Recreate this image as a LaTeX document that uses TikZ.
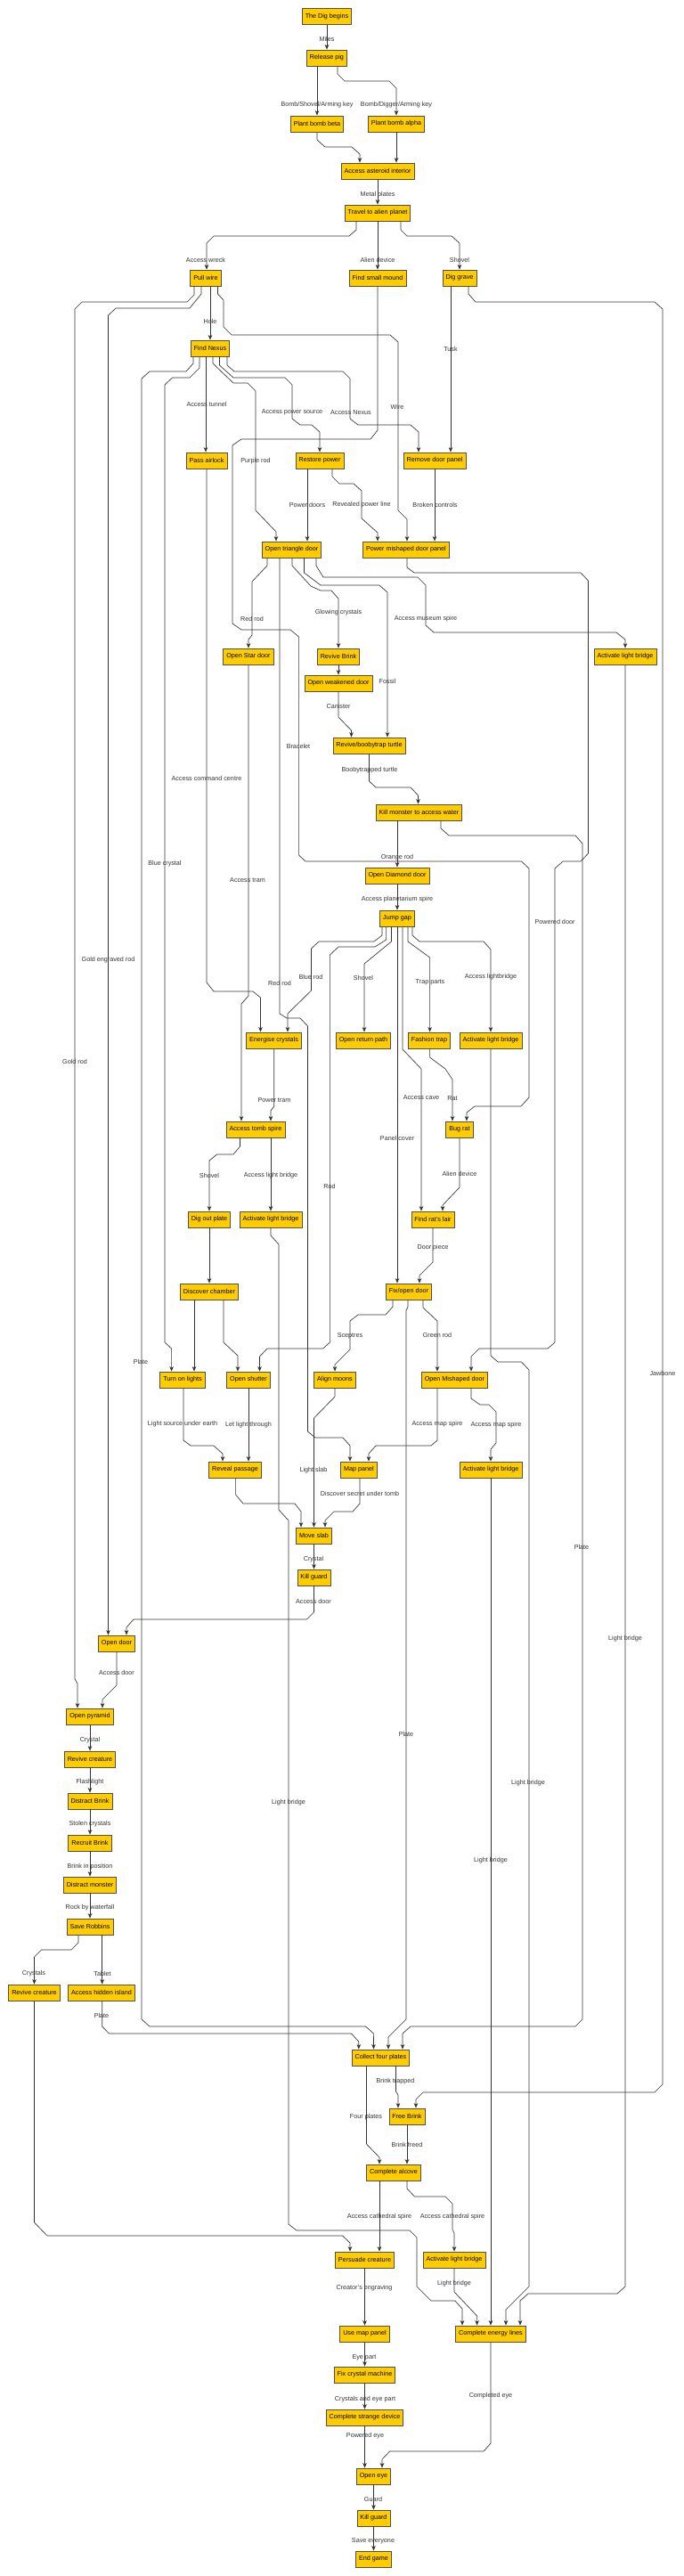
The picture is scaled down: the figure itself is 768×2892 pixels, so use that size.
\documentclass[tikz,border=0pt]{standalone}
\usepackage{fontspec}
\setmainfont{Liberation Sans}
\usetikzlibrary{arrows.meta}
\definecolor{gold}{RGB}{255,204,0}
\definecolor{bord}{RGB}{80,80,80}
\definecolor{ink}{RGB}{51,51,51}
\begin{document}
\begin{tikzpicture}[x=1pt,y=-1pt,
 box/.style={draw=bord, fill=gold, line width=0.8pt, minimum height=18pt, inner xsep=3.5pt, inner ysep=0pt, font=\fontsize{7.2}{8.6}\selectfont, text=black},
 edge/.style={draw=ink, line width=0.65pt, -{Stealth[length=5.5pt,width=4.5pt,inset=1.5pt]}},
 lab/.style={font=\fontsize{7.2}{8.6}\selectfont, text=ink, inner sep=0pt}]
\useasboundingbox[fill=white] (0,0) rectangle (768,2892);
% nodes
\node[box] (dig) at (367,18.3) {The Dig begins};
\node[box] (pig) at (367,65) {Release pig};
\node[box] (beta) at (356,139) {Plant bomb beta};
\node[box] (alpha) at (445,139) {Plant bomb alpha};
\node[box] (aster) at (424,192) {Access asteroid interior};
\node[box] (travel) at (424,239) {Travel to alien planet};
\node[box] (pull) at (231,312) {Pull wire};
\node[box] (mound) at (424,312) {Find small mound};
\node[box] (grave) at (516,312) {Dig grave};
\node[box] (nexus) at (236,391) {Find Nexus};
\node[box] (airlock) at (232,517) {Pass airlock};
\node[box] (restore) at (359,517) {Restore power};
\node[box] (panel) at (488,517) {Remove door panel};
\node[box] (tri) at (327.5,617) {Open triangle door};
\node[box] (mis) at (456,617) {Power mishaped door panel};
\node[box] (star) at (279,737) {Open Star door};
\node[box] (rbrink) at (380,737) {Revive Brink};
\node[box] (lbA) at (702,737) {Activate light bridge};
\node[box] (weak) at (380,767) {Open weakened door};
\node[box] (turtle) at (414.5,837) {Revive/boobytrap turtle};
\node[box] (monster) at (470.5,912) {Kill monster to access water};
\node[box] (diamond) at (446,983) {Open Diamond door};
\node[box] (jump) at (446,1031) {Jump gap};
\node[box] (energise) at (307.5,1168) {Energise crystals};
\node[box] (ret) at (408,1168) {Open return path};
\node[box] (trap) at (482,1168) {Fashion trap};
\node[box] (lbB) at (551,1168) {Activate light bridge};
\node[box] (tomb) at (287,1268) {Access tomb spire};
\node[box] (bugrat) at (516,1268) {Bug rat};
\node[box] (plate) at (235,1369) {Dig out plate};
\node[box] (lbC) at (304,1369) {Activate light bridge};
\node[box] (lair) at (486,1369) {Find rat's lair};
\node[box] (chamber) at (235,1450) {Discover chamber};
\node[box] (fix) at (459,1450) {Fix/open door};
\node[box] (lights) at (205,1549) {Turn on lights};
\node[box] (shutter) at (279,1549) {Open shutter};
\node[box] (moons) at (376,1549) {Align moons};
\node[box] (omis) at (510.5,1549) {Open Mishaped door};
\node[box] (reveal) at (264,1650) {Reveal passage};
\node[box] (map) at (403,1650) {Map panel};
\node[box] (lbD) at (551,1650) {Activate light bridge};
\node[box] (slab) at (352.5,1724) {Move slab};
\node[box] (kguard) at (352.5,1771) {Kill guard};
\node[box] (odoor) at (131,1845) {Open door};
\node[box] (pyramid) at (101,1927) {Open pyramid};
\node[box] (rcreat) at (101,1975) {Revive creature};
\node[box] (dbrink) at (101,2022) {Distract Brink};
\node[box] (recruit) at (101,2069) {Recruit Brink};
\node[box] (dmonster) at (101,2116) {Distract monster};
\node[box] (robbins) at (101,2163) {Save Robbins};
\node[box] (rcreat2) at (38.5,2237) {Revive creature};
\node[box] (island) at (114,2237) {Access hidden island};
\node[box] (four) at (427.5,2310) {Collect four plates};
\node[box] (free) at (457,2376) {Free Brink};
\node[box] (alcove) at (442,2439) {Complete alcove};
\node[box] (persuade) at (409.5,2537) {Persuade creature};
\node[box] (lbE) at (510,2537) {Activate light bridge};
\node[box] (usemap) at (409.5,2620) {Use map panel};
\node[box] (energy) at (551,2620) {Complete energy lines};
\node[box] (crystalm) at (409.5,2666) {Fix crystal machine};
\node[box] (strange) at (409.5,2714) {Complete strange device};
\node[box] (openeye) at (419.5,2780) {Open eye};
\node[box] (kguard2) at (419.5,2827) {Kill guard};
\node[box] (endgame) at (419.5,2873) {End game};
% edges
\draw[edge] (dig.south) -- (pig.north);
\draw[edge] ([xshift=-11pt]pig.south) -- (beta.north);
\draw[edge] ([xshift=12pt]pig.south) -- (379,83) -- (387,91) -- (437,91) -- (445,99) -- (alpha.north);
\draw[edge] (beta.south) -- (356,157) -- (365,165) -- (395,165) -- (404,173) -- ([xshift=-20pt]aster.north);
\draw[edge] (alpha.south) -- ([xshift=21pt]aster.north);
\draw[edge] (aster.south) -- (travel.north);
\draw[edge] ([xshift=-24pt]travel.south) -- (400,258) -- (392,265) -- (240,265) -- (232,273) -- ([xshift=1pt]pull.north);
\draw[edge] (travel.south) -- (mound.north);
\draw[edge] ([xshift=26pt]travel.south) -- (450,258) -- (457,265) -- (507,265) -- (516,273) -- (grave.north);
\draw[edge] ([xshift=-13pt]pull.south) -- (218,331) -- (210,339) -- (92,339) -- (84,347) -- (84,1885) -- (87,1890) -- ([xshift=-14pt]pyramid.north);
\draw[edge] ([xshift=-5pt]pull.south) -- (226,330) -- (213,346) -- (130,346) -- (121.5,354) -- ([xshift=-9.5pt]odoor.north);
\draw[edge] ([xshift=5pt]pull.south) -- (nexus.north);
\draw[edge] ([xshift=13.5pt]pull.south) -- (244.5,330) -- (251,337) -- (251,367) -- (260,376) -- (438,376) -- (447,384) -- (447,573) -- (457,583) -- ([xshift=1pt]mis.north);
\draw[edge] ([xshift=-19pt]nexus.south) -- (217,408) -- (209,417) -- (168,417) -- (159,425) -- (159,2267) -- (168,2275) -- (410.6,2275) -- (419.4,2283) -- ([xshift=-8pt]four.north);
\draw[edge] ([xshift=-12pt]nexus.south) -- (224,413) -- (213,424) -- (193.5,424) -- (185,432) -- (185,1507) -- (192.6,1514) -- ([xshift=-12.4pt]lights.north);
\draw[edge] ([xshift=-5pt]nexus.south) -- ([xshift=-1pt]airlock.north);
\draw[edge] ([xshift=3pt]nexus.south) -- (239,408) -- (262,430) -- (278,430) -- (287,439) -- (287,573) -- (310,597) -- ([xshift=-17.5pt]tri.north);
\draw[edge] ([xshift=10.5pt]nexus.south) -- (246.5,410) -- (262,424) -- (320,424) -- (328,432) -- (328,470) -- (337,477) -- (350,477) -- (359,485) -- (restore.north);
\draw[edge] ([xshift=19pt]nexus.south) -- (255,410) -- (263,417) -- (385,417) -- (393,425) -- (393,470) -- (402,477) -- (461,477) -- (470,485) -- ([xshift=-18pt]panel.north);
\draw[edge] (mound.south) -- (424,483) -- (416,493) -- (271,493) -- (261,500) -- (261,700) -- (271,707) -- (326,707) -- (335.6,715) -- (335.6,960) -- (343,967) -- (585.5,967) -- (594,975) -- (594,1232) -- (585,1242) -- (533,1242) -- (524,1249) -- ([xshift=8pt]bugrat.north);
\draw[edge] ([xshift=-10pt]grave.south) -- ([xshift=18pt]panel.north);
\draw[edge] ([xshift=10pt]grave.south) -- (526,330) -- (534,339) -- (735,339) -- (744,347) -- (744,2340) -- (735,2349) -- (475,2349) -- (467,2357) -- ([xshift=10pt]free.north);
\draw[edge] (airlock.south) -- (232,1103) -- (240,1113) -- (284,1113) -- (292.5,1120) -- ([xshift=-15pt]energise.north);
\draw[edge] ([xshift=-14pt]restore.south) -- ([xshift=17.5pt]tri.north);
\draw[edge] ([xshift=14pt]restore.south) -- (373,535) -- (381,543) -- (397,543) -- (406,551) -- (406,582) -- (424,598) -- ([xshift=-32pt]mis.north);
\draw[edge] (panel.south) -- ([xshift=32pt]mis.north);
\draw[edge] ([xshift=-27.5pt]tri.south) -- (300,635) -- (283,653) -- (283,713) -- (279,718) -- (star.north);
\draw[edge] ([xshift=-13.5pt]tri.south) -- (314,1138) -- (322,1143) -- (337,1143) -- (345.5,1152) -- (345.5,1607) -- (354,1614) -- (385,1614) -- (393,1623) -- ([xshift=-10pt]map.north);
\draw[edge] ([xshift=0.5pt]tri.south) -- (328,635) -- (349,658) -- (360,663) -- (372,663) -- (380,672) -- (rbrink.north);
\draw[edge] ([xshift=14pt]tri.south) -- (341.5,643) -- (360,657) -- (426,657) -- (435,665) -- ([xshift=20.5pt]turtle.north);
\draw[edge] ([xshift=27.5pt]tri.south) -- (355,635) -- (363,648) -- (469,648) -- (478,657) -- (478,702) -- (487,710) -- (692,710) -- (702,718) -- (lbA.north);
\draw[edge] ([xshift=1pt]mis.south) -- (457,637) -- (465,643) -- (652,643) -- (660.5,652) -- (660.5,958) -- (652,967) -- (632,967) -- (623,975) -- (623,1507) -- (615,1514) -- (538,1514) -- (529,1523) -- ([xshift=18.5pt]omis.north);
\draw[edge] (rbrink.south) -- (weak.north);
\draw[edge] (weak.south) -- (380,805) -- (394.5,820) -- ([xshift=-20pt]turtle.north);
\draw[edge] (turtle.south) -- (414.5,877) -- (422,884) -- (461,884) -- (469.5,893) -- ([xshift=-1pt]monster.north);
\draw[edge] ([xshift=-24.5pt]monster.south) -- (diamond.north);
\draw[edge] ([xshift=24.5pt]monster.south) -- (495,930) -- (504,938) -- (646,938) -- (654,947) -- (654,2267) -- (646,2275) -- (461,2275) -- (452,2283) -- ([xshift=24.5pt]four.north);
\draw[edge] (diamond.south) -- (jump.north);
\draw[edge] ([xshift=-17pt]jump.south) -- (429,1050) -- (420,1057) -- (358,1057) -- (349.5,1065) -- (349.5,1112) -- (323,1138) -- ([xshift=15.5pt]energise.north);
\draw[edge] ([xshift=-12.4pt]jump.south) -- (433.6,1055) -- (421,1063) -- (380,1063) -- (370.4,1072) -- (370.4,1507) -- (362.6,1514) -- (300,1514) -- (291.5,1523) -- ([xshift=12.5pt]shutter.north);
\draw[edge] ([xshift=-6.5pt]jump.south) -- (439.5,1057) -- (409,1082) -- ([xshift=1pt]ret.north);
\draw[edge] (jump.south) -- ([xshift=-13pt]fix.north);
\draw[edge] ([xshift=6pt]jump.south) -- (452,1178) -- (473,1200) -- ([xshift=-13pt]lair.north);
\draw[edge] ([xshift=12pt]jump.south) -- (458,1057) -- (482.6,1075) -- ([xshift=0.6pt]trap.north);
\draw[edge] ([xshift=17pt]jump.south) -- (463,1050) -- (471,1057) -- (543,1057) -- (551,1066) -- (lbB.north);
\draw[edge] ([xshift=0.2pt]energise.south) -- (307.7,1242) -- (304,1247) -- ([xshift=17pt]tomb.north);
\draw[edge] (star.south) -- (279,1118) -- (271,1127) -- ([xshift=-16pt]tomb.north);
\draw[edge] ([xshift=0.6pt]trap.south) -- (482.6,1187) -- (500,1200) -- (508,1212) -- ([xshift=-8pt]bugrat.north);
\draw[edge] (bugrat.south) -- (516,1333) -- (497,1353) -- ([xshift=11pt]lair.north);
\draw[edge] ([xshift=-17.5pt]tomb.south) -- (269.5,1287) -- (262,1296) -- (243.5,1296) -- (235,1303) -- (plate.north);
\draw[edge] ([xshift=17pt]tomb.south) -- (lbC.north);
\draw[edge] (lair.south) -- (486,1417) -- (471,1432) -- ([xshift=12pt]fix.north);
\draw[edge] (plate.south) -- (chamber.north);
\draw[edge] (lbC.south) -- (304,1387) -- (313,1397) -- (313,1695) -- (324,1707) -- (324,2497) -- (333,2504) -- (460,2504) -- (468,2512) -- (468,2567) -- (484,2583) -- (511,2583) -- (519,2592) -- ([xshift=-32pt]energy.north);
\draw[edge] ([xshift=-17pt]chamber.south) -- ([xshift=13pt]lights.north);
\draw[edge] ([xshift=16pt]chamber.south) -- (251,1507) -- (267,1522) -- ([xshift=-12pt]shutter.north);
\draw[edge] ([xshift=1pt]lights.south) -- (206,1617) -- (214,1623) -- (240,1623) -- (250,1632) -- ([xshift=-14pt]reveal.north);
\draw[edge] (shutter.south) -- ([xshift=15pt]reveal.north);
\draw[edge] ([xshift=-18pt]fix.south) -- (441,1467) -- (433,1476) -- (402,1476) -- (393,1483) -- (393,1515) -- (376,1532) -- (moons.north);
\draw[edge] ([xshift=-1pt]fix.south) -- (458,1467) -- (456,1471) -- (456,2267) -- (436,2287) -- ([xshift=8.5pt]four.north);
\draw[edge] ([xshift=16pt]fix.south) -- (475,1468) -- (491,1483) -- ([xshift=-19.5pt]omis.north);
\draw[edge] ([xshift=-19.5pt]omis.south) -- (491,1617) -- (484,1623) -- (422,1623) -- (414,1632) -- ([xshift=11pt]map.north);
\draw[edge] ([xshift=18.5pt]omis.south) -- (529,1570) -- (539,1577) -- (549,1577) -- (557,1585) -- (557,1620) -- (551,1627) -- (lbD.north);
\draw[edge] (moons.south) -- (376,1568) -- (352.5,1592) -- (slab.north);
\draw[edge] ([xshift=1pt]map.south) -- (404,1688) -- (396,1697) -- (375,1697) -- (365,1707) -- ([xshift=12.5pt]slab.north);
\draw[edge] ([xshift=0.6pt]reveal.south) -- (264.6,1678) -- (273,1688) -- (331,1688) -- (338,1697) -- ([xshift=-14.5pt]slab.north);
\draw[edge] (lbD.south) -- (energy.north);
\draw[edge] (lbB.south) -- (551,1522) -- (559,1529) -- (585.5,1529) -- (594,1538) -- (594,2567) -- (568,2593) -- ([xshift=17pt]energy.north);
\draw[edge] (lbA.south) -- (702,2567) -- (693,2575) -- (593,2575) -- (584,2583) -- ([xshift=33pt]energy.north);
\draw[edge] (kguard.south) -- (352.5,1810) -- (344.5,1818) -- (150,1818) -- (142,1827) -- ([xshift=11pt]odoor.north);
\draw[edge] (slab.south) -- (kguard.north);
\draw[edge] (odoor.south) -- (131,1892) -- (115,1908) -- ([xshift=14pt]pyramid.north);
\draw[edge] (pyramid.south) -- (rcreat.north);
\draw[edge] (rcreat.south) -- (dbrink.north);
\draw[edge] (dbrink.south) -- (recruit.north);
\draw[edge] (recruit.south) -- (dmonster.north);
\draw[edge] (dmonster.south) -- (robbins.north);
\draw[edge] ([xshift=-13pt]robbins.south) -- (88,2181) -- (80,2189) -- (46.5,2189) -- (38.5,2197) -- (rcreat2.north);
\draw[edge] ([xshift=13.7pt]robbins.south) -- ([xshift=0.7pt]island.north);
\draw[edge] ([xshift=0.7pt]island.south) -- (114.7,2275) -- (122.5,2283) -- (394.5,2283) -- (402.8,2292) -- ([xshift=-24.7pt]four.north);
\draw[edge] (rcreat2.south) -- (38.5,2495) -- (53,2510) -- (384.6,2510) -- (393,2518) -- ([xshift=-16.5pt]persuade.north);
\draw[edge] ([xshift=17pt]four.south) -- (444.5,2348) -- (447,2352) -- ([xshift=-10pt]free.north);
\draw[edge] ([xshift=-16pt]four.south) -- (411.5,2407) -- (426,2422) -- ([xshift=-16pt]alcove.north);
\draw[edge] (free.south) -- ([xshift=15pt]alcove.north);
\draw[edge] ([xshift=-16pt]alcove.south) -- ([xshift=16.5pt]persuade.north);
\draw[edge] ([xshift=15pt]alcove.south) -- (457,2457) -- (465.5,2466) -- (500,2466) -- (508,2474) -- (508,2503) -- (510,2507) -- (lbE.north);
\draw[edge] (lbE.south) -- (510,2573) -- (535.6,2600) -- ([xshift=-15.4pt]energy.north);
\draw[edge] (persuade.south) -- (usemap.north);
\draw[edge] (usemap.south) -- (crystalm.north);
\draw[edge] (crystalm.south) -- (strange.north);
\draw[edge] (strange.south) -- ([xshift=-10pt]openeye.north);
\draw[edge] (energy.south) -- (551,2743) -- (543,2752) -- (437.6,2752) -- (429,2761) -- ([xshift=9.5pt]openeye.north);
\draw[edge] (openeye.south) -- (kguard2.north);
\draw[edge] (kguard2.south) -- (endgame.north);
% labels
\node[lab] (l1) at (367,44) {Miles};
\node[lab] (l2) at (356,118) {Bomb/Shovel/Arming key};
\node[lab] (l3) at (445,118) {Bomb/Digger/Arming key};
\node[lab] (l4) at (424,219) {Metal plates};
\node[lab] (l5) at (231,292) {Access wreck};
\node[lab] (l6) at (424,292) {Alien device};
\node[lab] (l7) at (516,292) {Shovel};
\node[lab] (l8) at (236,361) {Hole};
\node[lab] (l9) at (506,392) {Tusk};
\node[lab] (l10) at (232,454) {Access tunnel};
\node[lab] (l11) at (446,457) {Wire};
\node[lab] (l12) at (328,463) {Access power source};
\node[lab] (l13) at (394,463) {Access Nexus};
\node[lab] (l14) at (287,518) {Purple rod};
\node[lab] (l15) at (345,567) {Power doors};
\node[lab] (l16) at (406,567) {Revealed power line};
\node[lab] (l17) at (488.5,567) {Broken controls};
\node[lab] (l18) at (380,688) {Glowing crystals};
\node[lab] (l19) at (283,695) {Red rod};
\node[lab] (l20) at (478,695) {Access museum spire};
\node[lab] (l21) at (435,765) {Fossil};
\node[lab] (l22) at (380,793) {Canister};
\node[lab] (l23) at (335,838) {Bracelet};
\node[lab] (l24) at (415,865) {Boobytrapped turtle};
\node[lab] (l25) at (232,874) {Access command centre};
\node[lab] (l26) at (446,963) {Orange rod};
\node[lab] (l27) at (185,970) {Blue crystal};
\node[lab] (l28) at (278,988) {Access tram};
\node[lab] (l29) at (446,1010) {Access planetarium spire};
\node[lab] (l30) at (623,1035) {Powered door};
\node[lab] (l31) at (121.5,1078) {Gold engraved rod};
\node[lab] (l32) at (349,1097) {Blue rod};
\node[lab] (l33) at (551,1097) {Access lightbridge};
\node[lab] (l34) at (408,1098) {Shovel};
\node[lab] (l35) at (483,1103) {Trap parts};
\node[lab] (l36) at (314,1104) {Red rod};
\node[lab] (l37) at (84,1192) {Gold rod};
\node[lab] (l38) at (473,1232) {Access cave};
\node[lab] (l39) at (508,1233) {Rat};
\node[lab] (l40) at (308,1235) {Power tram};
\node[lab] (l41) at (446,1278) {Panel cover};
\node[lab] (l42) at (516,1318) {Alien device};
\node[lab] (l43) at (235,1320) {Shovel};
\node[lab] (l44) at (304,1320) {Access light bridge};
\node[lab] (l45) at (370,1332) {Rod};
\node[lab] (l46) at (486,1401) {Door piece};
\node[lab] (l47) at (491,1499) {Green rod};
\node[lab] (l48) at (393,1500) {Sceptres};
\node[lab] (l49) at (158,1529) {Plate};
\node[lab] (l50) at (744,1542) {Jawbone};
\node[lab] (l51) at (491,1599) {Access map spire};
\node[lab] (l52) at (205,1599) {Light source under earth};
\node[lab] (l53) at (279,1600) {Let light through};
\node[lab] (l54) at (557,1600) {Access map spire};
\node[lab] (l55) at (352,1651) {Light slab};
\node[lab] (l56) at (404,1677) {Discover secret under tomb};
\node[lab] (l57) at (653,1737) {Plate};
\node[lab] (l58) at (352,1751) {Crystal};
\node[lab] (l59) at (352,1798) {Access door};
\node[lab] (l60) at (702,1840) {Light bridge};
\node[lab] (l61) at (131,1878) {Access door};
\node[lab] (l62) at (456,1947) {Plate};
\node[lab] (l63) at (101,1954) {Crystal};
\node[lab] (l64) at (101,2001) {Flashlight};
\node[lab] (l65) at (593,2002) {Light bridge};
\node[lab] (l66) at (324,2024) {Light bridge};
\node[lab] (l67) at (101,2048) {Stolen crystals};
\node[lab] (l68) at (551,2089) {Light bridge};
\node[lab] (l69) at (101,2096) {Brink in position};
\node[lab] (l70) at (101,2142) {Rock by waterfall};
\node[lab] (l71) at (38,2216) {Crystals};
\node[lab] (l72) at (115,2216) {Tablet};
\node[lab] (l73) at (114,2263) {Plate};
\node[lab] (l74) at (444,2337) {Brink trapped};
\node[lab] (l75) at (411,2377) {Four plates};
\node[lab] (l76) at (457,2408) {Brink freed};
\node[lab] (l77) at (426,2489) {Access cathedral spire};
\node[lab] (l78) at (508,2489) {Access cathedral spire};
\node[lab] (l79) at (510,2564) {Light bridge};
\node[lab] (l80) at (409,2569) {Creator's engraving};
\node[lab] (l81) at (409,2647) {Eye part};
\node[lab] (l82) at (551,2690) {Completed eye};
\node[lab] (l83) at (410,2694) {Crystals and eye part};
\node[lab] (l84) at (410,2735) {Powered eye};
\node[lab] (l85) at (419,2806) {Guard};
\node[lab] (l86) at (419,2853) {Save everyone};
\end{tikzpicture}
\end{document}
